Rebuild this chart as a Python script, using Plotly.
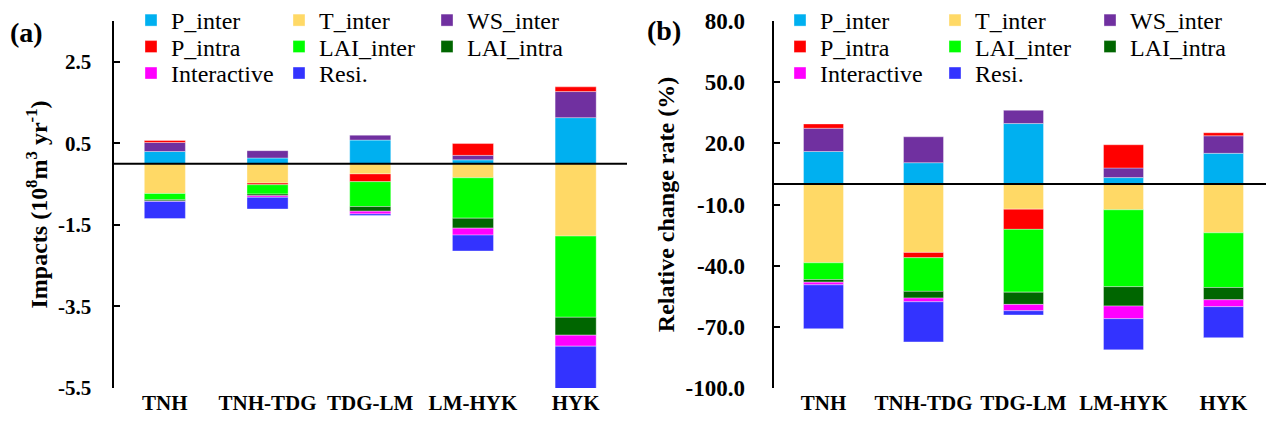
import plotly.graph_objects as go

# ---------------- data ----------------
categories = ["TNH", "TNH-TDG", "TDG-LM", "LM-HYK", "HYK"]
series_names = ["P_inter", "T_inter", "WS_inter", "P_intra",
                "LAI_inter", "LAI_intra", "Interactive", "Resi."]
series_colors = ["#00B0F0", "#FFD966", "#7030A0", "#FF0000",
                 "#00FF00", "#006600", "#FF00FF", "#3333FF"]

# panel (a): impacts (10^8 m^3 yr^-1)
p_inter_a = [0.30, 0.14, 0.58, 0.095, 1.13]
t_inter_a = [-0.73, -0.475, -0.25, -0.345, -1.775]
ws_inter_a = [0.22, 0.18, 0.12, 0.11, 0.64]
p_intra_a = [0.05, -0.04, -0.19, 0.29, 0.115]
lai_inter_a = [-0.155, -0.23, -0.61, -0.99, -1.99]
lai_intra_a = [-0.03, -0.04, -0.115, -0.245, -0.44]
interactive_a = [-0.01, -0.04, -0.065, -0.17, -0.27]
resi_a = [-0.42, -0.285, -0.04, -0.39, -1.07]

# panel (b): relative change rate (%)
p_inter_b = [16.0, 10.5, 29.7, 3.2, 15.1]
t_inter_b = [-38.6, -33.5, -12.3, -12.6, -23.9]
ws_inter_b = [11.4, 12.7, 6.5, 4.7, 8.6]
p_intra_b = [2.1, -2.6, -9.9, 11.4, 1.5]
lai_inter_b = [-8.2, -16.5, -30.8, -37.7, -26.8]
lai_intra_b = [-1.3, -3.3, -6.0, -9.5, -6.0]
interactive_b = [-1.3, -1.8, -3.1, -6.2, -3.4]
resi_b = [-21.5, -19.7, -2.1, -15.3, -15.2]

ytick_vals_a = [-5.5, -3.5, -1.5, 0.5, 2.5]
ytick_text_a = ["-5.5", "-3.5", "-1.5", "0.5", "2.5"]
ytick_vals_b = [-100, -70, -40, -10, 20, 50, 80]
ytick_text_b = ["-100.0", "-70.0", "-40.0", "-10.0", "20.0", "50.0", "80.0"]

values_a = [p_inter_a, t_inter_a, ws_inter_a, p_intra_a,
            lai_inter_a, lai_intra_a, interactive_a, resi_a]
values_b = [p_inter_b, t_inter_b, ws_inter_b, p_intra_b,
            lai_inter_b, lai_intra_b, interactive_b, resi_b]

# ---------------- figure ----------------
# the page body has an 8px margin, so the figure is 8px smaller than the window
OFF = 8
W, H = 1274 - OFF, 427 - OFF
MT = 21 - OFF
MB = 427 - 388.5
PH = H - MT - MB
FONT = "Liberation Serif, Times New Roman, serif"

fig = go.Figure()

legends_a = ["legend", "legend2", "legend3"]
legends_b = ["legend4", "legend5", "legend6"]

for i, name in enumerate(series_names):
    fig.add_trace(go.Bar(
        x=categories, y=values_a[i], name=name,
        marker=dict(color=series_colors[i],
                    line=dict(color="rgba(255,255,255,0.45)", width=0.8)),
        xaxis="x", yaxis="y", legend=legends_a[i // 3],
    ))
for i, name in enumerate(series_names):
    fig.add_trace(go.Bar(
        x=categories, y=values_b[i], name=name,
        marker=dict(color=series_colors[i],
                    line=dict(color="rgba(255,255,255,0.45)", width=0.8)),
        xaxis="x2", yaxis="y2", legend=legends_b[i // 3],
    ))


def px_x(p):
    """window pixel x -> paper x"""
    return (p - OFF) / W


def px_y(p):
    """window pixel y -> paper y"""
    return (H - MB - (p - OFF)) / PH


common_y = dict(
    showgrid=False, zeroline=False, showline=True, linecolor="black",
    linewidth=2, ticks="inside", ticklen=6, tickwidth=2, tickcolor="black",
    automargin=False,
)
common_x = dict(
    showgrid=False, zeroline=False, showline=False, ticks="",
    tickfont=dict(family=FONT, size=21, color="black", weight="bold"),
    automargin=False,
)

fig.update_layout(
    width=W, height=H,
    margin=dict(l=0, r=0, t=MT, b=MB, autoexpand=False),
    paper_bgcolor="white", plot_bgcolor="white",
    barmode="relative", bargap=0.6,
    xaxis=dict(domain=[px_x(113.5), px_x(627)], anchor="y", **common_x),
    xaxis2=dict(domain=[px_x(773.5), min(1.0, px_x(1273.5))], anchor="y2", **common_x),
    yaxis=dict(range=[-5.5, 3.5], tickvals=ytick_vals_a, ticktext=ytick_text_a,
               anchor="x", ticklabelstandoff=16,
               tickfont=dict(family=FONT, size=21, color="black", weight="bold"),
               title=dict(text="Impacts (10<sup>8</sup>m<sup>3</sup> yr<sup>-1</sup>)",
                          font=dict(family=FONT, size=24, color="black", weight="bold"),
                          standoff=4),
               **common_y),
    yaxis2=dict(range=[-100, 80], tickvals=ytick_vals_b, ticktext=ytick_text_b,
                anchor="x2", ticklabelstandoff=22,
                tickfont=dict(family=FONT, size=23, color="black", weight="bold"),
                title=dict(text="Relative change rate (%)",
                           font=dict(family=FONT, size=24, color="black", weight="bold"),
                           standoff=4),
                **common_y),
    showlegend=True,
)

row_y = [20.5, 47.0, 73.5]
leg_font = dict(family=FONT, size=24, color="black")
for r in range(3):
    fig.update_layout({
        legends_a[r]: dict(orientation="h", x=px_x(131), xanchor="left",
                           y=px_y(row_y[r]), yanchor="middle",
                           font=leg_font, entrywidth=103, entrywidthmode="pixels",
                           bgcolor="rgba(0,0,0,0)", traceorder="normal"),
        legends_b[r]: dict(orientation="h", x=px_x(780), xanchor="left",
                           y=px_y(row_y[r]), yanchor="middle",
                           font=leg_font, entrywidth=110, entrywidthmode="pixels",
                           bgcolor="rgba(0,0,0,0)", traceorder="normal"),
    })

# zero reference lines drawn above bars
for xr, yr in (("x", "y"), ("x2", "y2")):
    fig.add_shape(type="line", xref=f"{xr} domain", yref=yr, x0=0, x1=1, y0=0, y1=0,
                  line=dict(color="black", width=2), layer="above")

# panel labels
fig.add_annotation(text="(a)", xref="paper", yref="paper", x=px_x(8), y=px_y(33),
                   xanchor="left", yanchor="middle", showarrow=False,
                   font=dict(family=FONT, size=28, color="black", weight="bold"))
fig.add_annotation(text="(b)", xref="paper", yref="paper", x=px_x(645), y=px_y(31),
                   xanchor="left", yanchor="middle", showarrow=False,
                   font=dict(family=FONT, size=28, color="black", weight="bold"))

fig.write_html("out.html")
